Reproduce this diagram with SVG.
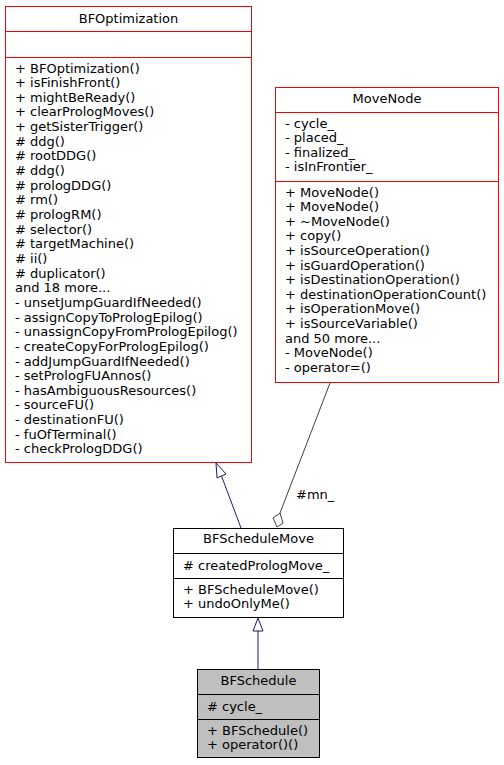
<svg xmlns="http://www.w3.org/2000/svg" width="504" height="765" viewBox="0 0 504 765">
<style>
text{font-family:"DejaVu Sans",sans-serif;font-size:13px;fill:#000}
.t{text-anchor:middle}
.red{fill:#fff;stroke:#ff0000;stroke-width:1}
.blk{fill:#fff;stroke:#000;stroke-width:1}
.gry{fill:#bfbfbf;stroke:#000;stroke-width:1}
.lr{stroke:#ff0000;stroke-width:1}
.lb{stroke:#000;stroke-width:1}
.inh{stroke:#191970;stroke-width:1;fill:none}
.agg{stroke:#404040;stroke-width:1;fill:none}
</style>
<rect width="504" height="765" fill="#fff"/>
<g id="BFOptimization">
<rect class="red" x="5.5" y="6.5" width="246" height="456"/>
<line class="lr" x1="5.5" y1="31.5" x2="251.5" y2="31.5"/>
<line class="lr" x1="5.5" y1="57.5" x2="251.5" y2="57.5"/>
<text class="t" x="128.5" y="22.5">BFOptimization</text>
<text x="15" y="72.5">+ BFOptimization()</text>
<text x="15" y="87.15">+ isFinishFront()</text>
<text x="15" y="101.8">+ mightBeReady()</text>
<text x="15" y="116.45">+ clearPrologMoves()</text>
<text x="15" y="131.1">+ getSisterTrigger()</text>
<text x="15" y="145.75"># ddg()</text>
<text x="15" y="160.4"># rootDDG()</text>
<text x="15" y="175.05"># ddg()</text>
<text x="15" y="189.7"># prologDDG()</text>
<text x="15" y="204.35"># rm()</text>
<text x="15" y="219"># prologRM()</text>
<text x="15" y="233.65"># selector()</text>
<text x="15" y="248.3"># targetMachine()</text>
<text x="15" y="262.95"># ii()</text>
<text x="15" y="277.6"># duplicator()</text>
<text x="15" y="292.25">and 18 more...</text>
<text x="15" y="306.9">- unsetJumpGuardIfNeeded()</text>
<text x="15" y="321.55">- assignCopyToPrologEpilog()</text>
<text x="15" y="336.2">- unassignCopyFromPrologEpilog()</text>
<text x="15" y="350.85">- createCopyForPrologEpilog()</text>
<text x="15" y="365.5">- addJumpGuardIfNeeded()</text>
<text x="15" y="380.15">- setPrologFUAnnos()</text>
<text x="15" y="394.8">- hasAmbiguousResources()</text>
<text x="15" y="409.45">- sourceFU()</text>
<text x="15" y="424.1">- destinationFU()</text>
<text x="15" y="438.75">- fuOfTerminal()</text>
<text x="15" y="453.4">- checkPrologDDG()</text>
</g>
<g id="MoveNode">
<rect class="red" x="275.5" y="87.5" width="223" height="295"/>
<line class="lr" x1="275.5" y1="112.5" x2="498.5" y2="112.5"/>
<line class="lr" x1="275.5" y1="181.5" x2="498.5" y2="181.5"/>
<text class="t" x="387" y="102.5">MoveNode</text>
<text x="285" y="127.5">- cycle_</text>
<text x="285" y="142.1">- placed_</text>
<text x="285" y="156.7">- finalized_</text>
<text x="285" y="171.3">- isInFrontier_</text>
<text x="285" y="196.5">+ MoveNode()</text>
<text x="285" y="211.1">+ MoveNode()</text>
<text x="285" y="225.7">+ ~MoveNode()</text>
<text x="285" y="240.3">+ copy()</text>
<text x="285" y="254.9">+ isSourceOperation()</text>
<text x="285" y="269.5">+ isGuardOperation()</text>
<text x="285" y="284.1">+ isDestinationOperation()</text>
<text x="285" y="298.7">+ destinationOperationCount()</text>
<text x="285" y="313.3">+ isOperationMove()</text>
<text x="285" y="327.9">+ isSourceVariable()</text>
<text x="285" y="342.5">and 50 more...</text>
<text x="285" y="357.1">- MoveNode()</text>
<text x="285" y="371.7">- operator=()</text>
</g>
<g id="BFScheduleMove">
<rect class="blk" x="173.5" y="528.5" width="170" height="89"/>
<line class="lb" x1="173.5" y1="553.5" x2="343.5" y2="553.5"/>
<line class="lb" x1="173.5" y1="578.5" x2="343.5" y2="578.5"/>
<text class="t" x="258.5" y="542.5">BFScheduleMove</text>
<text x="183" y="569.5"># createdPrologMove_</text>
<text x="183" y="593.5">+ BFScheduleMove()</text>
<text x="183" y="608.1">+ undoOnlyMe()</text>
</g>
<g id="BFSchedule">
<rect class="gry" x="197.5" y="669.5" width="122" height="88"/>
<line class="lb" x1="197.5" y1="694.5" x2="319.5" y2="694.5"/>
<line class="lb" x1="197.5" y1="719.5" x2="319.5" y2="719.5"/>
<text class="t" x="258.5" y="684.5">BFSchedule</text>
<text x="207" y="710.5"># cycle_</text>
<text x="207" y="734.5">+ BFSchedule()</text>
<text x="207" y="749.1">+ operator()()</text>
</g>
<g id="connectors">
<line class="inh" x1="241" y1="528" x2="221.5" y2="476"/>
<polygon class="inh" fill="#fff" points="216,463 217,478 226,474"/>
<line class="inh" x1="258" y1="669" x2="258" y2="631"/>
<polygon class="inh" fill="#fff" points="258,618 253,631 263,631"/>
<line class="agg" x1="330" y1="383" x2="280" y2="513"/>
<polygon class="agg" fill="#fff" points="277,527 273,518 280,513 283,523"/>
<text x="296" y="498.5">#mn_</text>
</g>
</svg>
